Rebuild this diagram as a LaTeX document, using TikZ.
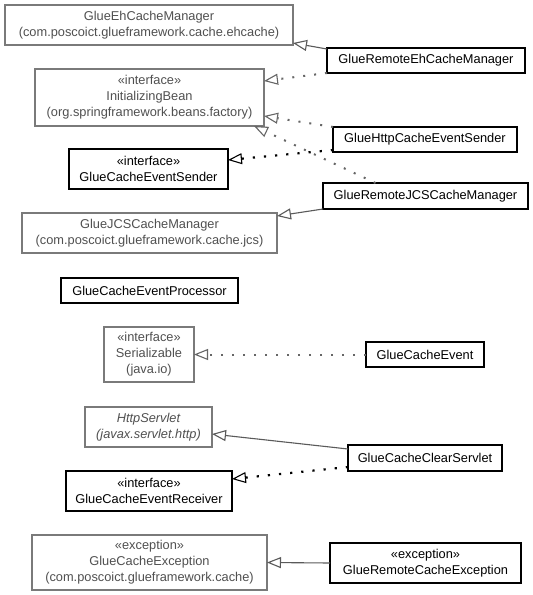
\documentclass[tikz,border=0pt]{standalone}
\usepackage{fontspec}
\setmainfont{Liberation Sans}
\usetikzlibrary{arrows.meta,calc}
\definecolor{boxgray}{HTML}{7A7A7A}
\definecolor{txtgray}{HTML}{505050}
\definecolor{linegray}{HTML}{5A5A5A}
\definecolor{dotgray}{HTML}{666666}
\begin{document}
\begin{tikzpicture}[x=1pt,y=-1pt,
  cls/.style={draw=black, line width=1.1pt, text=black, align=center, inner sep=0pt, outer sep=0pt,
    font=\fontsize{12.8}{16}\selectfont},
  ext/.style={cls, draw=boxgray, text=txtgray},
  hollow/.style={-{Triangle[open,length=14pt,width=11pt,line width=1.1pt]}},
  gen/.style={hollow, line width=1.1pt, draw=linegray},
  realg/.style={hollow, draw=dotgray, line width=2pt, dash pattern=on 2pt off 9pt},
  realb/.style={hollow, draw=black, line width=2.2pt, dash pattern=on 2.2pt off 9pt}
]
\fill[white] (0,0) rectangle (533,595);
\useasboundingbox (0,0) rectangle (533,595);

% left column
\node[ext, minimum width=288pt, minimum height=40pt] (ehcm) at (149,25) {GlueEhCacheManager\\(com.poscoict.glueframework.cache.ehcache)};
\node[ext, minimum width=229pt, minimum height=57pt] (ib) at (149.5,97.5) {«interface»\\InitializingBean\\(org.springframework.beans.factory)};
\node[cls, minimum width=159pt, minimum height=40pt] (ces) at (148.5,169) {«interface»\\GlueCacheEventSender};
\node[ext, minimum width=255pt, minimum height=40pt] (jcs) at (149.5,233) {GlueJCSCacheManager\\(com.poscoict.glueframework.cache.jcs)};
\node[cls, minimum width=177pt, minimum height=25pt] (cep) at (149.5,290.5) {GlueCacheEventProcessor};
\node[ext, minimum width=90pt, minimum height=55pt] (ser) at (149,354.5) {«interface»\\Serializable\\(java.io)};
\node[ext, minimum width=127pt, minimum height=40pt, font=\fontsize{12.8}{16}\selectfont\itshape] (hs) at (148.5,427) {HttpServlet\\(javax.servlet.http)};
\node[cls, minimum width=166pt, minimum height=40pt] (cer) at (149,491) {«interface»\\GlueCacheEventReceiver};
\node[ext, minimum width=235pt, minimum height=55pt] (gce) at (149.5,562.5) {«exception»\\GlueCacheException\\(com.poscoict.glueframework.cache)};

% right column
\node[cls, minimum width=198pt, minimum height=25pt] (reh) at (426,60.5) {GlueRemoteEhCacheManager};
\node[cls, minimum width=184pt, minimum height=25pt] (hces) at (425,139.5) {GlueHttpCacheEventSender};
\node[cls, minimum width=205pt, minimum height=26pt] (rjcs) at (425.5,196) {GlueRemoteJCSCacheManager};
\node[cls, minimum width=118pt, minimum height=25pt] (ce) at (425,354.5) {GlueCacheEvent};
\node[cls, minimum width=154pt, minimum height=26pt] (ccs) at (425,458) {GlueCacheClearServlet};
\node[cls, minimum width=191pt, minimum height=40pt] (rce) at (425.5,563) {«exception»\\GlueRemoteCacheException};

% connectors
\draw[gen] ($(reh.north west)+(0,1)$) -- ($(ehcm.south east)+(0,-2)$);
\draw[realg] (reh.south west) -- ($(ib.north east)+(0,12)$);
\draw[realg] (hces.north west) -- ($(ib.south east)+(0,-10)$);
\draw[realb] ($(hces.south west)+(0,-2)$) -- ($(ces.east)+(0,-9)$);
\draw[realg] ($(rjcs.north)+(-50,0)$) -- ($(ib.south east)+(-10,0)$);
\draw[gen] (rjcs.south west) -- ($(jcs.north east)+(0,3)$);
\draw[realg] (ce.west) -- (ser.east);
\draw[gen] ($(ccs.north west)+(0,4)$) -- ($(hs.east)+(0,7)$);
\draw[realb] ($(ccs.south west)+(0,-4)$) -- ($(cer.east)+(0,-12)$);
\draw[gen] (rce.west) -- (gce.east);
\end{tikzpicture}
\end{document}
